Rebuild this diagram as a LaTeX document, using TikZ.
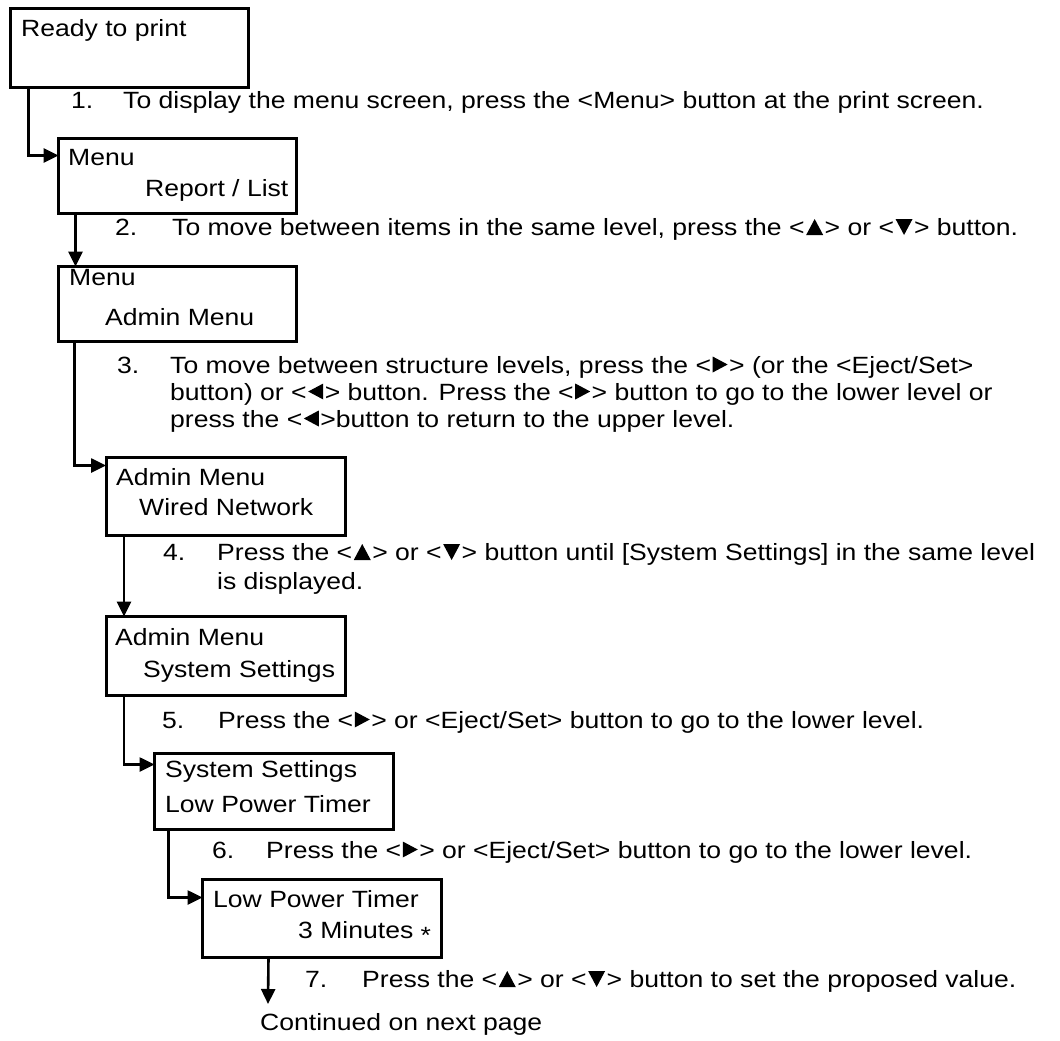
\documentclass[tikz,border=0pt]{standalone}
\usepackage{fontspec}
\setmainfont{Liberation Sans}[FakeStretch=1.13]
\usetikzlibrary{arrows.meta}
% button symbols drawn as small filled triangles
\newcommand{\up}{\hspace{1.5pt}\tikz[baseline=0pt]\fill (0pt,0pt) -- (17pt,0pt) -- (8.5pt,16pt) -- cycle;\hspace{1.5pt}}
\newcommand{\dn}{\hspace{1.5pt}\tikz[baseline=0pt]\fill (0pt,16pt) -- (17pt,16pt) -- (8.5pt,0pt) -- cycle;\hspace{1.5pt}}
\newcommand{\rt}{\hspace{1.5pt}\tikz[baseline=0pt]\fill (0pt,0.5pt) -- (0pt,16.5pt) -- (15pt,8.5pt) -- cycle;\hspace{1.5pt}}
\newcommand{\lt}{\hspace{1.5pt}\tikz[baseline=0pt]\fill (15pt,0.5pt) -- (15pt,16.5pt) -- (0pt,8.5pt) -- cycle;\hspace{1.5pt}}

\begin{document}
\begin{tikzpicture}[x=1pt,y=-1pt,
  screen/.style={draw, line width=3pt, inner sep=0pt, outer sep=0pt},
  conn/.style={line width=2.6pt, -{Triangle[length=15pt,width=14pt]}},
  txt/.style={anchor=base west, inner sep=0pt, font=\fontsize{23.5}{27}\selectfont}]
  \useasboundingbox (0,0) rectangle (1060,1041);

  % display screens
  \node[screen, minimum width=238pt, minimum height=79pt] (b1) at (129.5,48) {};
  \node[screen, minimum width=238pt, minimum height=75pt] (b2) at (177.5,176) {};
  \node[screen, minimum width=238pt, minimum height=75pt] (b3) at (177.5,304) {};
  \node[screen, minimum width=239pt, minimum height=78pt] (b4) at (225.5,496.5) {};
  \node[screen, minimum width=239pt, minimum height=79pt] (b5) at (225.5,656) {};
  \node[screen, minimum width=239pt, minimum height=76pt] (b6) at (274,791.5) {};
  \node[screen, minimum width=239pt, minimum height=78pt] (b7) at (322,918.5) {};

  % screen contents
  \node[txt] (b1a) at (21,37) {Ready to print};
  \node[txt] (b2a) at (68,165) {Menu};
  \node[txt] (b2b) at (145,196) {Report / List};
  \node[txt] (b3a) at (69,285) {Menu};
  \node[txt] (b3b) at (105,325) {Admin Menu};
  \node[txt] (b4a) at (116,485) {Admin Menu};
  \node[txt] (b4b) at (139,515) {Wired Network};
  \node[txt] (b5a) at (115,645) {Admin Menu};
  \node[txt] (b5b) at (143,677) {System Settings};
  \node[txt] (b6a) at (165,777) {System Settings};
  \node[txt] (b6b) at (165,812) {Low Power Timer};
  \node[txt] (b7a) at (213,907) {Low Power Timer};
  \node[txt] (b7b) at (298,938) {3 Minutes \raisebox{-5pt}{*}};

  % step descriptions
  \node[txt] (n1) at (71,108) {1.};
  \node[txt] (s1) at (123,108) {To display the menu screen, press the <Menu> button at the print screen.};
  \node[txt] (n2) at (115,235) {2.};
  \node[txt] (s2) at (172,235) {To move between items in the same level, press the <\up> or <\dn> button.};
  \node[txt] (n3) at (117,373) {3.};
  \node[txt] (s3a) at (170,373) {To move between structure levels, press the <\rt> (or the <Eject/Set>};
  \node[txt] (s3b) at (170,400) {button) or <\lt> button. Press the <\rt> button to go to the lower level or};
  \node[txt] (s3c) at (170,427) {press the <\lt>button to return to the upper level.};
  \node[txt] (n4) at (163,560) {4.};
  \node[txt] (s4a) at (217,560) {Press the <\up> or <\dn> button until [System Settings] in the same level};
  \node[txt] (s4b) at (217,589) {is displayed.};
  \node[txt] (n5) at (162,728) {5.};
  \node[txt] (s5) at (218,728) {Press the <\rt> or <Eject/Set> button to go to the lower level.};
  \node[txt] (n6) at (212,858) {6.};
  \node[txt] (s6) at (266,858) {Press the <\rt> or <Eject/Set> button to go to the lower level.};
  \node[txt] (n7) at (305,987) {7.};
  \node[txt] (s7) at (362,987) {Press the <\up> or <\dn> button to set the proposed value.};
  \node[txt] (cont) at (260,1030) {Continued on next page};

  % connectors between screens
  \coordinate (end) at (268,1004);
  \draw[conn] ([xshift=18pt]b1.south west) |- ([yshift=-17pt]b2.north west);
  \draw[conn] ([xshift=17pt]b2.south west) -- ([xshift=17pt]b3.north west);
  \draw[conn] ([xshift=16pt]b3.south west) |- ([yshift=-8pt]b4.north west);
  \draw[conn] ([xshift=18pt]b4.south west) -- ([xshift=18pt]b5.north west);
  \draw[conn] ([xshift=18pt]b5.south west) |- ([yshift=-11pt]b6.north west);
  \draw[conn] ([xshift=14pt]b6.south west) |- ([yshift=-18pt]b7.north west);
  \draw[conn] ([xshift=66pt]b7.south west) -- (end);
\end{tikzpicture}
\end{document}
